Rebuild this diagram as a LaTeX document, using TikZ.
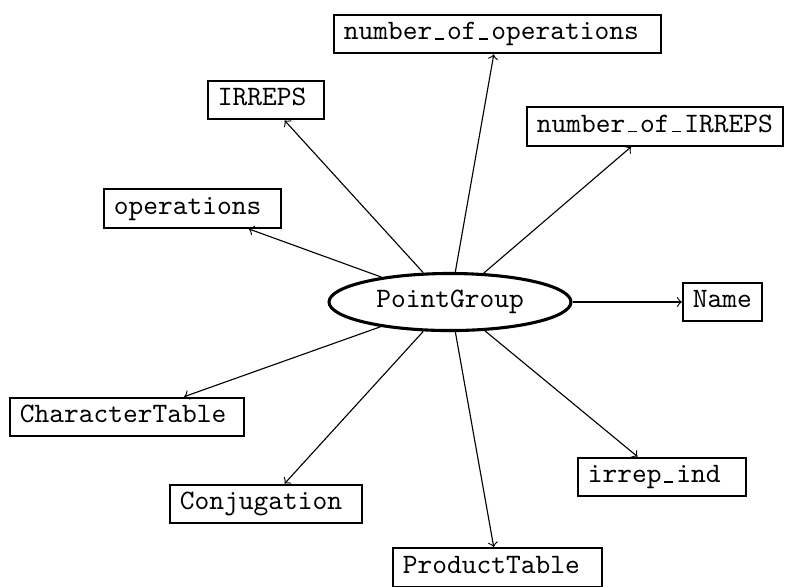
\documentclass[tikz,border=0pt]{standalone}
\usetikzlibrary{shapes.geometric}
% short typewriter underscore, one character cell wide
\newcommand\usc{\makebox[0.525em][c]{\rule{0.32em}{0.5pt}}}
% extra room after a field name
\newcommand\trail[1]{\kern#1pt\relax}
\begin{document}
\begin{tikzpicture}[x=0.3559pt,y=-0.3559pt,
  attr/.style={draw,line width=0.7pt,anchor=west,inner xsep=3.5pt,inner ysep=0pt,
    minimum height=13.8pt,text height=6.5pt,text depth=2.5pt,font=\ttfamily},
  cls/.style={draw,ellipse,line width=1.1pt,minimum width=86.1pt,minimum height=20.3pt,
    inner sep=0pt,font=\ttfamily},
  link/.style={->,line width=0.4pt}]
\useasboundingbox (0,0) rectangle (785,586);
\node[cls] (pg) at (450,302) {PointGroup};
\node[attr] (nops)    at (333,34)    {number\usc of\usc operations\trail{4.3}};
\node[attr] (irreps)  at (207,100)   {IRREPS\trail{2.8}};
\node[attr] (nirreps) at (526,126.5) {number\usc of\usc IRREPS};
\node[attr] (ops)     at (103,208.5) {operations\trail{3.6}};
\node[attr] (name)    at (682,302)   {Name};
\node[attr] (chartab) at (9,417)     {CharacterTable\trail{2.8}};
\node[attr] (conj)    at (169,504)   {Conjugation\trail{3.6}};
\node[attr] (irrind)  at (577,477)   {irrep\usc ind\trail{5.7}};
\node[attr] (prodtab) at (392,567.5) {ProductTable\trail{4.3}};
\foreach \t in {nops,irreps,nirreps,ops,name,chartab,conj,irrind,prodtab}
  \draw[link] (pg) -- (\t);
\end{tikzpicture}
\end{document}
